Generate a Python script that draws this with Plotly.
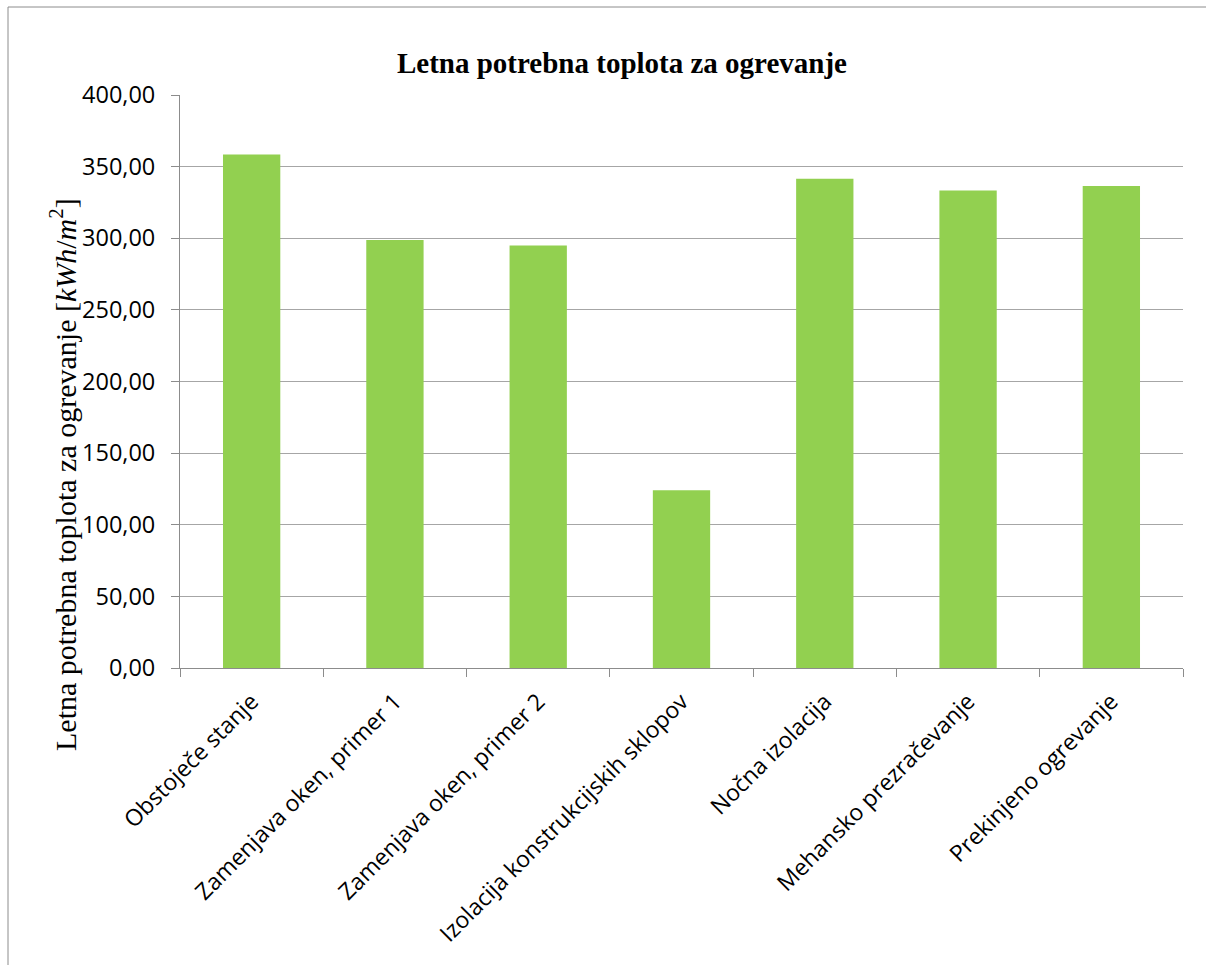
import plotly.graph_objects as go

categories = [
    "Obstoječe stanje",
    "Zamenjava oken, primer 1",
    "Zamenjava oken, primer 2",
    "Izolacija konstrukcijskih sklopov",
    "Nočna izolacija",
    "Mehansko prezračevanje",
    "Prekinjeno ogrevanje",
]
values = [358.5, 298.8, 294.9, 124.0, 341.5, 333.3, 336.5]
y_ticks = [0, 50, 100, 150, 200, 250, 300, 350, 400]
y_tick_labels = ["0,00", "50,00", "100,00", "150,00", "200,00", "250,00", "300,00", "350,00", "400,00"]

title_text = "<b>Letna potrebna toplota za ogrevanje</b>"
y_title_text = "Letna potrebna toplota za ogrevanje [<i>kWh</i>/<i>m</i><sup>2</sup>]"

W, H = 1206, 965
ML, MR, MT, MB = 180, 23, 95, 297
pw = W - ML - MR
ph = H - MT - MB

def px_x(x):
    return (x - ML) / pw

def px_y(y):
    return (H - MB - y) / ph

fig = go.Figure(
    go.Bar(
        x=categories,
        y=values,
        marker=dict(color="#92D050", line=dict(width=0)),
    )
)

fig.update_layout(
    width=W,
    height=H,
    margin=dict(l=ML, r=MR, t=MT, b=MB),
    paper_bgcolor="white",
    plot_bgcolor="white",
    bargap=0.6,
    showlegend=False,
    title=dict(
        text=title_text,
        font=dict(family="Liberation Serif", size=29, color="black"),
        x=622 / W,
        xanchor="center",
        y=1 - 63 / H,
        yanchor="middle",
        yref="container",
    ),
    xaxis=dict(
        tickangle=-45,
        tickfont=dict(family="Open Sans", size=23, color="black"),
        showline=True,
        linecolor="#8c8c8c",
        linewidth=1,
        ticks="outside",
        tickson="boundaries",
        ticklen=8,
        tickcolor="#8c8c8c",
        showgrid=False,
        ticklabelstandoff=10,
    ),
    yaxis=dict(
        range=[0, 400],
        tickvals=y_ticks,
        ticktext=y_tick_labels,
        tickfont=dict(family="Open Sans", size=23.5, color="black"),
        showline=True,
        linecolor="#8c8c8c",
        linewidth=1,
        ticks="outside",
        ticklen=8,
        tickcolor="#8c8c8c",
        showgrid=True,
        gridcolor="#a6a6a6",
        gridwidth=1,
        zeroline=False,
        ticklabelstandoff=11,
    ),
    annotations=[
        dict(
            text=y_title_text,
            xref="paper",
            yref="paper",
            x=px_x(63),
            y=px_y(475),
            xanchor="center",
            yanchor="middle",
            textangle=-90,
            showarrow=False,
            font=dict(family="Liberation Serif", size=30, color="black"),
        )
    ],
    shapes=[
        dict(
            type="rect",
            xref="paper",
            yref="paper",
            x0=px_x(8),
            x1=px_x(1215),
            y0=px_y(975),
            y1=px_y(7),
            line=dict(color="#8c8c8c", width=1),
            fillcolor="rgba(0,0,0,0)",
            layer="below",
        )
    ],
)

fig.write_html("out.html")
